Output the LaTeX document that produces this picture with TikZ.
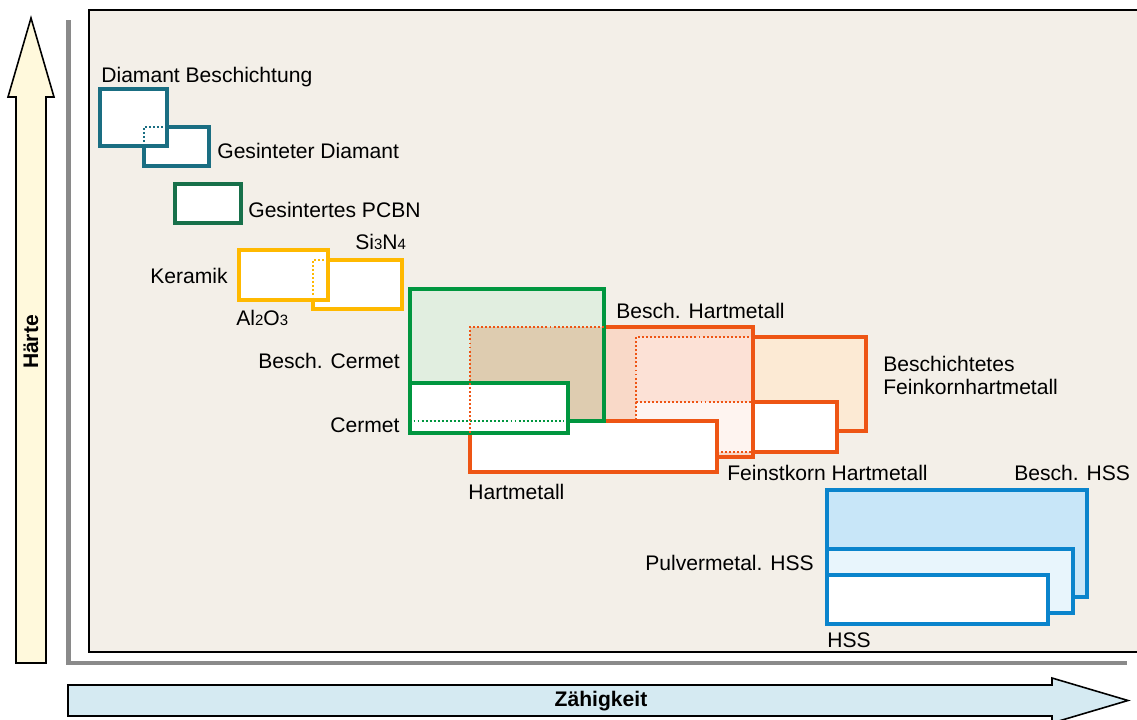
\documentclass[tikz,border=0pt]{standalone}
\usepackage{fontspec}
\setmainfont{Liberation Sans}
\usepackage{xcolor}
\definecolor{panelbg}{RGB}{243,239,232}
\definecolor{axisgray}{RGB}{138,138,138}
\definecolor{haertefill}{RGB}{255,249,220}
\definecolor{zaehfill}{RGB}{213,234,242}
\definecolor{diateal}{RGB}{26,110,130}
\definecolor{pcbngreen}{RGB}{23,112,74}
\definecolor{keryellow}{RGB}{255,185,0}
\definecolor{cermgreen}{RGB}{0,150,63}
\definecolor{cermfill}{RGB}{225,238,224}
\definecolor{tanfill}{RGB}{222,204,176}
\definecolor{hmorange}{RGB}{238,85,20}
\definecolor{bhmfill}{RGB}{249,217,200}
\definecolor{bfkfill}{RGB}{252,234,212}
\definecolor{fkupper}{RGB}{252,225,214}
\definecolor{fklower}{RGB}{254,244,240}
\definecolor{hssblue}{RGB}{10,132,204}
\definecolor{bhssfill}{RGB}{200,230,248}
\definecolor{pmfill}{RGB}{232,245,252}
\usepackage{tikz}
\usetikzlibrary{positioning,fit,calc}
\tikzset{
  panel/.style   ={draw=black,line width=0.6pt},
  axisline/.style={draw=axisgray,line width=2.3pt},
  bigarrow/.style={draw=black,line width=0.9pt},
  matbox/.style  ={rectangle,inner sep=0pt,outer sep=0pt,line width=1.9pt,fill=white},
  hidden/.style  ={line width=1.1pt,dash pattern=on 1.1pt off 1.2pt},
  lbl/.style     ={inner sep=0pt,anchor=base west,font=\fontsize{12}{14}\selectfont},
  axislbl/.style ={inner sep=0pt,font=\bfseries\fontsize{12}{14}\selectfont},
}
\newcommand{\chemsub}[1]{{\fontsize{8.5}{9}\selectfont #1}}

\begin{document}
\begin{tikzpicture}[x=0.02cm,y=-0.02cm]
  \useasboundingbox (0,0) rectangle (1137,720);
  % panel and axes
  \fill[panelbg] (89,10) rectangle (1160,652);
  \draw[panel] (1160,10) -- (89,10) -- (89,652) -- (1160,652);
  \draw[axisline] (68.5,20) -- (68.5,663) -- (1127,663);
  \draw[bigarrow,fill=haertefill] (16,663) -- (16,97) -- (8,97) -- (31,18) -- (54,97) -- (46,97) -- (46,663) -- cycle;
  \draw[bigarrow,fill=zaehfill] (68,685) -- (1052,685) -- (1052,678) -- (1128,700.5) -- (1052,723) -- (1052,716) -- (68,716) -- cycle;
  \node[axislbl,rotate=90] (haerte) at (31,342) {Härte};
  \node[axislbl] (zaeh) at (601,701) {Zähigkeit};

  % diamond
  \node[matbox,draw=diateal,fit={(144,127) (209,166)}] (gd) {};
  \node[matbox,draw=diateal,fit={(100,89) (167,146)}] (db) {};
  \draw[hidden,diateal] (gd.north -| db.east) -- (gd.north west) -- (gd.west |- db.south);
  \node[lbl] (dbl) at (101,82) {Diamant Beschichtung};
  \node[lbl] (gdl) at (217,158) {Gesinteter Diamant};

  % PCBN
  \node[matbox,draw=pcbngreen,fit={(175,184) (241,223)}] (pcbn) {};
  \node[lbl] (pcbnl) at (248,217) {Gesintertes PCBN};

  % ceramics
  \node[matbox,draw=keryellow,fit={(313,260) (402,309)}] (si) {};
  \node[matbox,draw=keryellow,fit={(239,250) (328,300)}] (al) {};
  \draw[hidden,keryellow] (si.north -| al.east) -- (si.north west) -- (si.west |- al.south);
  \node[lbl] (sil) at (355,249) {Si\chemsub{3}N\chemsub{4}};
  \node[lbl] (kerl) at (150,283) {Keramik};
  \node[lbl] (all) at (236,325) {Al\chemsub{2}O\chemsub{3}};

  % hard metals
  \node[matbox,draw=hmorange,fill=bfkfill,fit={(636,337) (866,431)}] (bfk) {};
  \node[matbox,draw=hmorange,fit={(636,402) (837,452)}] (fk) {};
  \node[matbox,fill=bhmfill,fit={(470,327) (753,457)}] (bhm) {};
  \fill[fkupper] (bfk.north west) rectangle (bhm.east |- fk.north);
  \fill[fklower] (fk.north west) rectangle (bhm.east |- fk.south);
  \draw[hmorange,line width=1.9pt] (bhm.north west) rectangle (bhm.south east);
  \draw[hidden,hmorange] (bfk.north -| bhm.east) -- (bfk.north west) -- (bfk.west |- fk.north) -- (fk.north -| bhm.east);
  \draw[hidden,hmorange] (fk.north west) -- (fk.west |- bhm.south);
  \draw[hidden,hmorange] (fk.south -| 717,0) -- (fk.south -| bhm.east);
  \node[matbox,draw=hmorange,fit={(470,421) (717,472)}] (hm) {};

  % cermets
  \node[matbox,fill=cermfill,fit={(410,289) (604,421)}] (bcer) {};
  \fill[tanfill] (bhm.north west) rectangle (bcer.south east);
  \draw[cermgreen,line width=1.9pt] (bcer.north west) rectangle (bcer.south east);
  \draw[hidden,hmorange] (bcer.east |- bhm.north) -- (bhm.north west) -- (bhm.west |- bcer.south);
  \node[matbox,draw=cermgreen,fit={(410,383) (568,433)}] (cer) {};
  \draw[hidden,cermgreen] ([xshift=2pt]cer.west |- bcer.south) -- ([xshift=-2pt]cer.east |- bcer.south);
  \draw[hidden,hmorange] (bhm.west |- cer.north) -- (bhm.west |- cer.south);

  \node[lbl] (bhml) at (616,318) {Besch. Hartmetall};
  \node[lbl] (bcerl) at (258,368) {Besch. Cermet};
  \node[lbl] (cerl) at (330,432) {Cermet};
  \node[lbl] (hml) at (468,499) {Hartmetall};
  \node[lbl] (fkl) at (727,480) {Feinstkorn Hartmetall};
  \node[lbl,align=left,anchor=north west,font=\fontsize{12}{13}\selectfont] (bfkl) at (883,356) {Beschichtetes\\Feinkornhartmetall};

  % HSS
  \node[matbox,draw=hssblue,fill=bhssfill,fit={(827,490) (1087,597)}] (bhss) {};
  \node[matbox,draw=hssblue,fill=pmfill,fit={(827,549) (1073,613)}] (pm) {};
  \node[matbox,draw=hssblue,fit={(827,575) (1048,624)}] (hss) {};
  \node[lbl] (bhssl) at (1014,480) {Besch. HSS};
  \node[lbl] (pml) at (645,570) {Pulvermetal. HSS};
  \node[lbl] (hssl) at (827,647) {HSS};
\end{tikzpicture}
\end{document}
